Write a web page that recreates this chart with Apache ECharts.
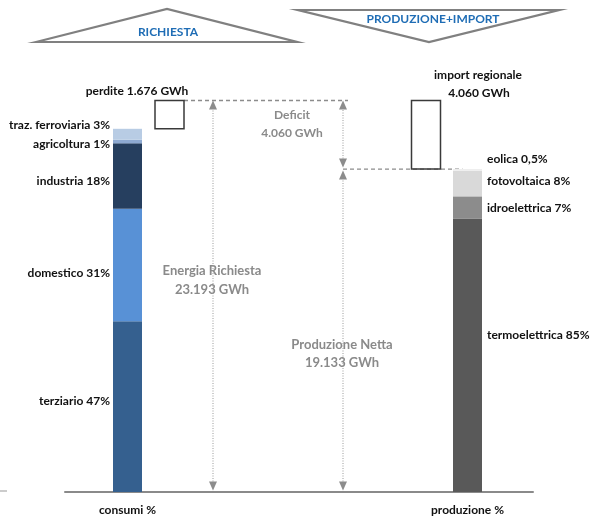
<!DOCTYPE html>
<html><head><meta charset="utf-8">
<script src="https://cdn.jsdelivr.net/npm/echarts@6/dist/echarts.min.js"></script>
<style>html,body{margin:0;padding:0;background:#fff}#c{width:590px;height:516px}</style>
</head><body><div id="c"></div>
<script>
// ---------- DATA ----------
const consumiCategories = ['terziario', 'domestico', 'industria', 'agricoltura', 'traz. ferroviaria'];
const consumiPct = [47, 31, 18, 1, 3];
const consumiPctText = ['47%', '31%', '18%', '1%', '3%'];
const produzioneCategories = ['termoelettrica', 'idroelettrica', 'fotovoltaica', 'eolica'];
const produzionePct = [85, 7, 8, 0.5];
const produzionePctText = ['85%', '7%', '8%', '0,5%'];
const energiaRichiesta = 23193;   // GWh
const perdite = 1676;             // GWh
const produzioneNetta = 19133;    // GWh
const importRegionale = 4060;     // GWh
const xLabels = ['consumi %', 'produzione %'];

// ---------- LAYOUT / STYLE ----------
const pos = { consumi: 62.5, perdite: 104.5, arrowRichiesta: 148, arrowNetta: 278, import: 361, produzione: 402.5 };
const barWidth = 29;
const consumiColors = ['#35608f', '#5891d6', '#263f5f', '#8eaad2', '#b8cce4'];
const produzioneColors = ['#595959', '#8c8c8c', '#d9d9d9', '#eeeeee'];
const consumiDy = [-6, 8, 5, 3, -9];
const produzioneDy = [-20, 1, -2, -11];
const FONT = 'Lato, "Liberation Sans", sans-serif';
const labelFont = 'bold 12px ' + FONT;
const grayText = '#8a8a8a';
const lineGray = '#8c8c8c';

// ---------- build stacked rows from the arrays ----------
const consumiTotal = energiaRichiesta - perdite;
function stackRows(x, pcts, total) {
  const sum = pcts.reduce((a, b) => a + b, 0);
  let acc = 0;
  return pcts.map((p, i) => {
    const v = p / sum * total;
    const row = [x, acc, acc + v, i];
    acc += v;
    return row;
  });
}
const consumiRows = stackRows(pos.consumi, consumiPct, consumiTotal);
const produzioneRows = stackRows(pos.produzione, produzionePct, produzioneNetta);

function stackRender(side, names, pctText, colors, dys) {
  return function (params, api) {
    const x = api.value(0), y0 = api.value(1), y1 = api.value(2), i = api.value(3);
    const p0 = api.coord([x, y0]), p1 = api.coord([x, y1]);
    const w = api.size([barWidth, 0])[0];
    const mid = (p0[1] + p1[1]) / 2;
    return {
      type: 'group',
      children: [
        { type: 'rect', shape: { x: p0[0] - w / 2, y: p1[1], width: w, height: p0[1] - p1[1] }, style: { fill: colors[i] } },
        { type: 'text', x: side === 'left' ? p0[0] - w / 2 - 3 : p0[0] + w / 2 + 5, y: mid + dys[i],
          style: { text: names[i] + ' ' + pctText[i], align: side === 'left' ? 'right' : 'left', verticalAlign: 'middle', font: labelFont, fill: '#111' } }
      ]
    };
  };
}

// boxes (perdite, import)
const boxRows = [[pos.perdite, consumiTotal, consumiTotal + perdite], [pos.import, produzioneNetta, produzioneNetta + importRegionale]];
function boxRender(params, api) {
  const x = api.value(0);
  const p0 = api.coord([x, api.value(1)]), p1 = api.coord([x, api.value(2)]);
  const w = api.size([barWidth, 0])[0];
  return { type: 'rect', shape: { x: p0[0] - w / 2, y: p1[1], width: w, height: p0[1] - p1[1] },
    style: { fill: 'rgba(255,255,255,0)', stroke: '#3a3a3a', lineWidth: 1.5 } };
}

// double-headed dotted arrows
const arrowRows = [
  [pos.arrowRichiesta, 0, energiaRichiesta],
  [pos.arrowNetta, 0, produzioneNetta],
  [pos.arrowNetta, produzioneNetta, energiaRichiesta]
];
function arrowRender(params, api) {
  const x = api.value(0);
  const pb = api.coord([x, api.value(1)]), pt = api.coord([x, api.value(2)]);
  const bx = pb[0];
  const yb = pb[1] - (api.value(1) > 0 ? 1.5 : 1.5);
  const yt = pt[1] + (api.value(2) < energiaRichiesta ? 1.5 : 0);
  const hw = 4, hh = 9;
  return {
    type: 'group',
    children: [
      { type: 'line', shape: { x1: bx, y1: yb - hh, x2: bx, y2: yt + hh }, style: { stroke: '#9a9a9a', lineWidth: 1, lineDash: [1, 1.5] } },
      { type: 'polygon', shape: { points: [[bx, yt], [bx - hw, yt + hh], [bx + hw, yt + hh]] }, style: { fill: lineGray } },
      { type: 'polygon', shape: { points: [[bx, yb], [bx - hw, yb - hh], [bx + hw, yb - hh]] }, style: { fill: lineGray } }
    ]
  };
}

// dashed horizontal guides
const dashRows = [
  [pos.perdite + barWidth / 2, pos.arrowNetta + 5, energiaRichiesta],
  [pos.arrowNetta, pos.produzione - 5, produzioneNetta]
];
function dashRender(params, api) {
  const a = api.coord([api.value(0), api.value(2)]), b = api.coord([api.value(1), api.value(2)]);
  return { type: 'line', shape: { x1: a[0], y1: a[1], x2: b[0], y2: b[1] }, style: { stroke: lineGray, lineWidth: 1.3, lineDash: [4, 3] } };
}

const chart = echarts.init(document.getElementById('c'), null, { renderer: 'canvas' });
chart.setOption({
  animation: false,
  backgroundColor: '#fff',
  grid: { left: 65, right: 57, top: 70, bottom: 24 },
  xAxis: {
    type: 'value', min: 0, max: 468,
    splitLine: { show: false },
    axisLine: { show: true, onZero: false, lineStyle: { color: '#8a8a8a', width: 2 } },
    axisTick: { show: false },
    axisLabel: {
      customValues: [pos.consumi, pos.produzione],
      formatter: v => (Math.abs(v - pos.consumi) < 1 ? xLabels[0] : xLabels[1]),
      margin: 12, color: '#111', fontFamily: FONT, fontWeight: 'bold', fontSize: 12
    }
  },
  yAxis: { type: 'value', min: 0, max: 25000, show: false, splitLine: { show: false } },
  series: [
    { type: 'custom', name: 'dash', data: dashRows, renderItem: dashRender, z: 1 },
    { type: 'custom', name: 'arrows', data: arrowRows, renderItem: arrowRender, z: 2 },
    { type: 'custom', name: 'consumi', data: consumiRows, renderItem: stackRender('left', consumiCategories, consumiPctText, consumiColors, consumiDy), z: 3 },
    { type: 'custom', name: 'produzione', data: produzioneRows, renderItem: stackRender('right', produzioneCategories, produzionePctText, produzioneColors, produzioneDy), z: 3 },
    { type: 'custom', name: 'boxes', data: boxRows, renderItem: boxRender, z: 4 }
  ],
  graphic: [
    { type: 'polygon', shape: { points: [[36, 42], [167, 9], [297, 42]] }, style: { fill: 'none', stroke: '#808080', lineWidth: 2.2 } },
    { type: 'text', x: 168, y: 32, style: { text: 'RICHIESTA', align: 'center', verticalAlign: 'middle', font: 'bold 12px ' + FONT, fill: '#1f6db5' } },
    { type: 'polygon', shape: { points: [[298, 10], [559, 10], [429, 42]] }, style: { fill: 'none', stroke: '#808080', lineWidth: 2.2 } },
    { type: 'text', x: 433, y: 19, style: { text: 'PRODUZIONE+IMPORT', align: 'center', verticalAlign: 'middle', font: 'bold 12px ' + FONT, fill: '#1f6db5' } },
    { type: 'line', shape: { x1: 0, y1: 491, x2: 7, y2: 491 }, style: { stroke: '#999', lineWidth: 1 } },
    { type: 'text', x: 137, y: 91, style: { text: 'perdite ' + perdite.toLocaleString('de-DE') + ' GWh', align: 'center', verticalAlign: 'middle', font: labelFont, fill: '#111' } },
    { type: 'text', x: 478, y: 75, style: { text: 'import regionale', align: 'center', verticalAlign: 'middle', font: labelFont, fill: '#111' } },
    { type: 'text', x: 479, y: 93, style: { text: importRegionale.toLocaleString('de-DE') + ' GWh', align: 'center', verticalAlign: 'middle', font: labelFont, fill: '#111' } },
    { type: 'text', x: 292, y: 115, style: { text: 'Deficit', align: 'center', verticalAlign: 'middle', font: 'bold 12px ' + FONT, fill: grayText } },
    { type: 'text', x: 292, y: 133, style: { text: importRegionale.toLocaleString('de-DE') + ' GWh', align: 'center', verticalAlign: 'middle', font: 'bold 12px ' + FONT, fill: grayText } },
    { type: 'text', x: 212, y: 271, style: { text: 'Energia Richiesta', align: 'center', verticalAlign: 'middle', font: 'bold 13px ' + FONT, fill: grayText } },
    { type: 'text', x: 212, y: 290, style: { text: energiaRichiesta.toLocaleString('de-DE') + ' GWh', align: 'center', verticalAlign: 'middle', font: 'bold 13px ' + FONT, fill: grayText } },
    { type: 'text', x: 342, y: 345, style: { text: 'Produzione Netta', align: 'center', verticalAlign: 'middle', font: 'bold 13px ' + FONT, fill: grayText } },
    { type: 'text', x: 342, y: 363, style: { text: produzioneNetta.toLocaleString('de-DE') + ' GWh', align: 'center', verticalAlign: 'middle', font: 'bold 13px ' + FONT, fill: grayText } }
  ]
});
</script>
</body></html>
